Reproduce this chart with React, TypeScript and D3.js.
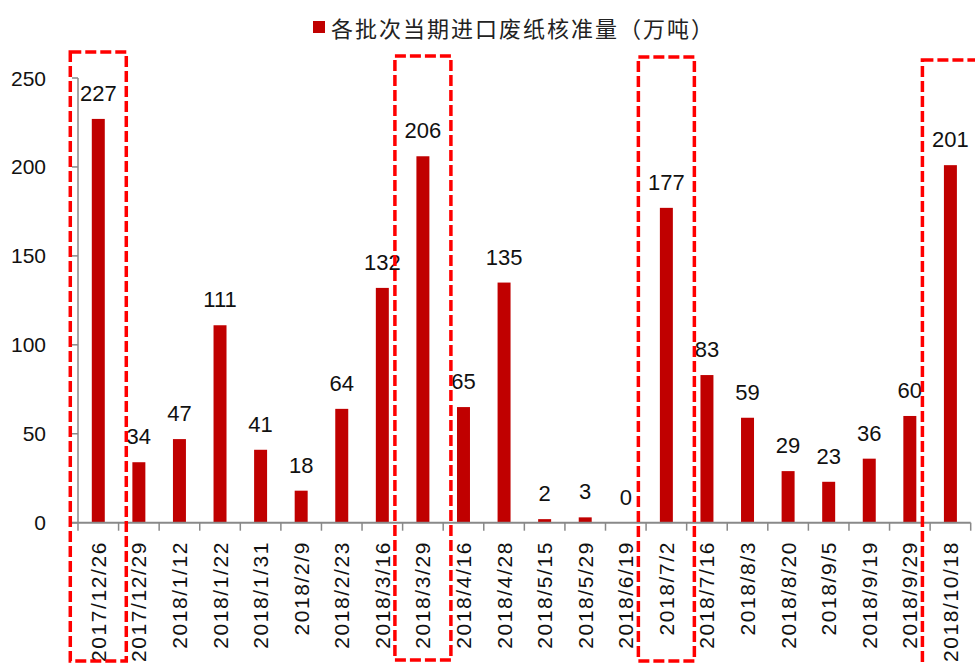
import * as React from 'react';
import * as d3 from 'd3';

// categories (batch dates)
const categories = [
  '2017/12/26', '2017/12/29', '2018/1/12', '2018/1/22', '2018/1/31', '2018/2/9',
  '2018/2/23', '2018/3/16', '2018/3/29', '2018/4/16', '2018/4/28', '2018/5/15',
  '2018/5/29', '2018/6/19', '2018/7/2', '2018/7/16', '2018/8/3', '2018/8/20',
  '2018/9/5', '2018/9/19', '2018/9/29', '2018/10/18',
];

// approved import volume per batch (10k tons)
const values = [227, 34, 47, 111, 41, 18, 64, 132, 206, 65, 135, 2, 3, 0, 177, 83, 59, 29, 23, 36, 60, 201];

const yTicks = [0, 50, 100, 150, 200, 250];

const legendLabel = '各批次当期进口废纸核准量（万吨）';

// batches marked with the dashed boxes
const highlighted = ['2017/12/26', '2018/3/29', '2018/7/2', '2018/10/18'];

const W = 975;
const H = 665;
const plot = { left: 78, right: 970.7, top: 78, bottom: 522.7 };
// dashed box top edge (px), per highlighted batch
const boxTops = [52, 56, 57, 60];
const boxBottoms = [661, 660, 661, 680];

const axisColor = '#898989';
const barColor = '#C00000';

export default function App() {
  const x = d3.scaleBand<string>().domain(categories).range([plot.left, plot.right]).padding(0);
  const y = d3.scaleLinear().domain([0, 250]).range([plot.bottom, plot.top]);
  const bw = x.bandwidth();
  const barW = bw * 0.32;
  const mid = (c: string) => (x(c) as number) + bw / 2;
  const boxW = 56;

  return (
    <svg width={W} height={H} style={{ position: 'absolute', left: 0, top: 0, background: '#fff' }}
      fontFamily="'Liberation Sans', Arial, sans-serif">
      {/* legend */}
      <rect x={313} y={21} width={12} height={12} fill={barColor} />
      <text x={331} y={27} dominantBaseline="central" fontSize={22} letterSpacing={2}
        fontFamily="'Noto Sans CJK SC', sans-serif" fill="#222">{legendLabel}</text>

      {/* bars */}
      {categories.map((c, i) => (
        <rect key={c} x={mid(c) - barW / 2} y={y(values[i])} width={barW}
          height={plot.bottom - y(values[i])} fill={barColor} />
      ))}

      {/* value labels */}
      {categories.map((c, i) => (
        <text key={'v' + c} x={mid(c)} y={y(values[i]) - 18} textAnchor="middle" fontSize={22} fill="#111">
          {values[i]}
        </text>
      ))}

      {/* y axis */}
      <line x1={plot.left} x2={plot.left} y1={plot.top} y2={plot.bottom} stroke={axisColor} strokeWidth={1.5} />
      {yTicks.map(t => (
        <g key={t}>
          <line x1={plot.left - 6} x2={plot.left} y1={y(t)} y2={y(t)} stroke={axisColor} strokeWidth={1.5} />
          <text x={46} y={y(t)} textAnchor="end" dominantBaseline="central" fontSize={21} fill="#111">{t}</text>
        </g>
      ))}

      {/* x axis */}
      <line x1={plot.left - 6} x2={plot.right} y1={plot.bottom} y2={plot.bottom} stroke={axisColor} strokeWidth={2} />
      {categories.concat(['']).map((c, i) => {
        const px = plot.left + i * bw;
        return <line key={'t' + i} x1={px} x2={px} y1={plot.bottom} y2={plot.bottom + 8} stroke={axisColor} strokeWidth={1.5} />;
      })}
      {categories.map(c => (
        <text key={'l' + c} transform={`translate(${mid(c)},541) rotate(-90)`} textAnchor="end"
          dominantBaseline="central" fontSize={21} letterSpacing={1.6} fill="#111">{c}</text>
      ))}

      {/* dashed highlight boxes */}
      {highlighted.map((c, i) => (
        <rect key={'b' + c} x={mid(c) - boxW / 2} y={boxTops[i]} width={boxW} height={boxBottoms[i] - boxTops[i]}
          fill="none" stroke="#FF0000" strokeWidth={3.5} strokeDasharray="11,4" />
      ))}
    </svg>
  );
}
